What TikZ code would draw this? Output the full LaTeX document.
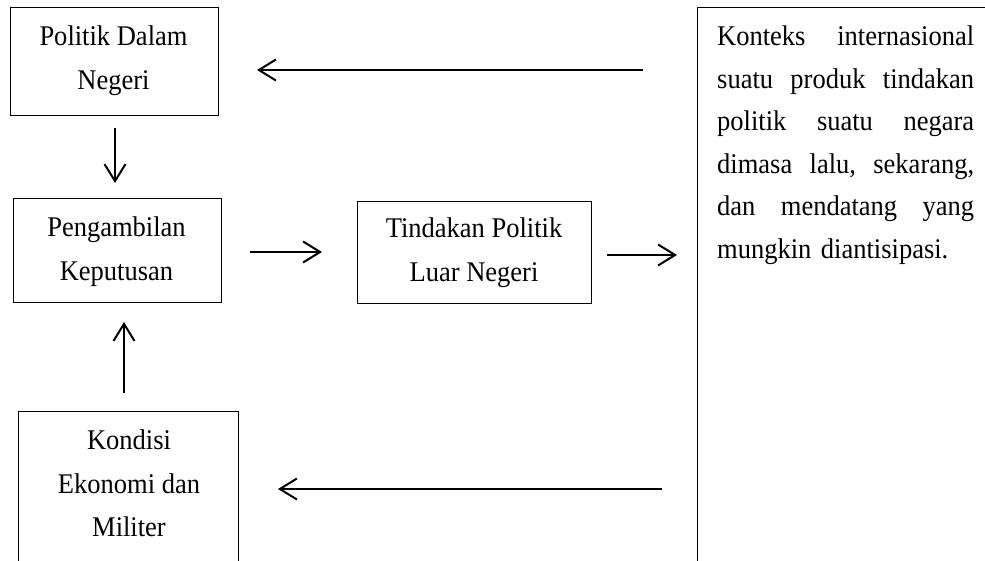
\documentclass[tikz,border=0pt]{standalone}
\usepackage{fontspec}
\setmainfont{Liberation Serif}[FakeStretch=0.93]
\usetikzlibrary{arrows.meta}
\begin{document}
\begin{tikzpicture}[x=1pt,y=-1pt,
  boxs/.style={draw=black, line width=1.2pt, inner sep=0pt, anchor=north west},
  txt/.style={align=center, inner sep=0pt, anchor=north, font=\fontsize{28.5}{43.5}\selectfont},
  arr/.style={line width=2pt, -{Straight Barb[length=17pt,width=21pt]}}]
\useasboundingbox (0,0) rectangle (985,560);
\clip (0,0) rectangle (985,560);
% boxes
\node[boxs, minimum width=208pt, minimum height=108pt] (b1) at (10,7) {};
\node[boxs, minimum width=208pt, minimum height=104pt] (b2) at (13,198) {};
\node[boxs, minimum width=234pt, minimum height=102pt] (b3) at (357,201) {};
\node[boxs, minimum width=220pt, minimum height=200pt] (b4) at (18,411) {};
\node[boxs, minimum width=320pt, minimum height=600pt] (big) at (697,7) {};
% texts
\node[txt] (t1) at (113.5,26) {Politik Dalam\\Negeri};
\node[txt] (t2) at (116.5,217) {Pengambilan\\Keputusan};
\node[txt] (t3) at (474,218) {Tindakan Politik\\Luar Negeri};
\node[txt] (t4) at (129,430) {Kondisi\\Ekonomi dan\\Militer};
\node[txt, anchor=north west, text width=257pt, align=left,
      font=\fontsize{28.5}{42.6}\selectfont] (t5) at (717,25.5) {%
Konteks\hfill internasional\\
suatu\hfill produk\hfill tindakan\\
politik\hfill suatu\hfill negara\\
dimasa\hfill lalu,\hfill sekarang,\\
dan\hfill mendatang\hfill yang\\
mungkin diantisipasi.};
% arrow ends
\coordinate (a1s) at (643,70);  \coordinate (a1e) at (257,70);
\coordinate (a2s) at (115,128); \coordinate (a2e) at (115,183);
\coordinate (a3s) at (250,252); \coordinate (a3e) at (322,252);
\coordinate (a4s) at (607,255); \coordinate (a4e) at (677,255);
\coordinate (a5s) at (124,393); \coordinate (a5e) at (124,322);
\coordinate (a6s) at (662,489); \coordinate (a6e) at (278,489);
\draw[arr] (a1s) -- (a1e);
\draw[arr] (a2s) -- (a2e);
\draw[arr] (a3s) -- (a3e);
\draw[arr] (a4s) -- (a4e);
\draw[arr] (a5s) -- (a5e);
\draw[arr] (a6s) -- (a6e);
\end{tikzpicture}
\end{document}
